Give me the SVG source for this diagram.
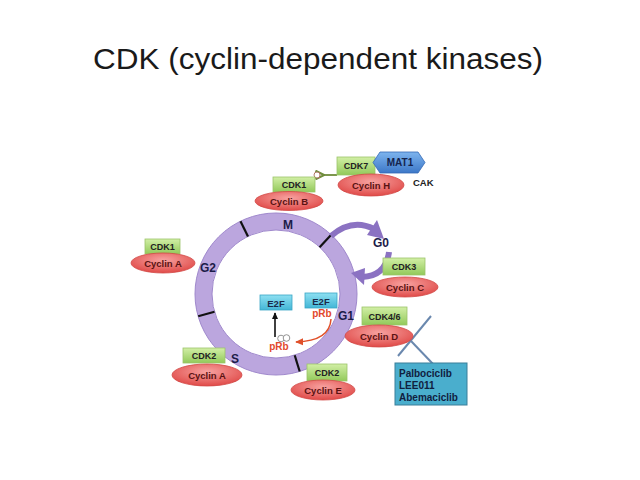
<svg xmlns="http://www.w3.org/2000/svg" width="640" height="480" viewBox="0 0 640 480">
<defs>
<linearGradient id="gGreen" x1="0" y1="0" x2="0" y2="1"><stop offset="0" stop-color="#d2efa6"/><stop offset="1" stop-color="#92c95a"/></linearGradient>
<radialGradient id="gRed" cx="0.5" cy="0.35" r="0.65"><stop offset="0" stop-color="#f7a2a0"/><stop offset="1" stop-color="#e04a48"/></radialGradient>
<linearGradient id="gCyan" x1="0" y1="0" x2="0" y2="1"><stop offset="0" stop-color="#8ee0f2"/><stop offset="1" stop-color="#43b6d6"/></linearGradient>
<linearGradient id="gBlue" x1="0" y1="0" x2="0" y2="1"><stop offset="0" stop-color="#7db4ee"/><stop offset="1" stop-color="#3d78c8"/></linearGradient>
<marker id="mRed" viewBox="0 0 10 10" refX="8" refY="5" markerWidth="6" markerHeight="6" orient="auto"><path d="M0,1 L9,5 L0,9 Z" fill="#e0502a"/></marker>
<marker id="mBlack" viewBox="0 0 10 10" refX="8" refY="5" markerWidth="5" markerHeight="5" orient="auto"><path d="M0,1 L9,5 L0,9 Z" fill="#111"/></marker>
<marker id="mGreen" viewBox="0 0 10 10" refX="2" refY="5" markerWidth="6" markerHeight="6" orient="auto"><path d="M9,1 L1,5 L9,9" fill="none" stroke="#6f8c3c" stroke-width="2"/></marker>
</defs>
<style>
.cdk{fill:url(#gGreen);stroke:#9cc46a;stroke-width:0.8}
.cyc{fill:url(#gRed);stroke:#d24a48;stroke-width:0.8}
.e2f{fill:url(#gCyan);stroke:#3aa6c6;stroke-width:0.8}
.tc{font-family:"Liberation Sans",Arial,sans-serif;font-weight:bold;font-size:9px;fill:#222;text-anchor:middle}
.ty{font-family:"Liberation Sans",Arial,sans-serif;font-weight:bold;font-size:9.5px;fill:#5a1212;text-anchor:middle}
.ph{font-family:"Liberation Sans",Arial,sans-serif;font-weight:bold;font-size:12px;fill:#1c1c48}
.tr{font-family:"Liberation Sans",Arial,sans-serif;font-weight:bold;font-size:10px;fill:#e2482c;text-anchor:middle}
.tick{stroke:#111;stroke-width:2.2}
</style>
<rect width="640" height="480" fill="#fff"/>
<text x="318" y="69" font-family="Liberation Sans,Arial,sans-serif" font-size="30" fill="#1a1a1a" text-anchor="middle" textLength="450" lengthAdjust="spacingAndGlyphs">CDK (cyclin-dependent kinases)</text>

<g id="cycle">
<circle cx="276" cy="294" r="72.5" fill="none" stroke="#bba6de" stroke-width="17"/>
<circle cx="276" cy="294" r="81" fill="none" stroke="#9f88cc" stroke-width="1"/>
<circle cx="276" cy="294" r="64" fill="none" stroke="#9f88cc" stroke-width="1"/>
<line class="tick" x1="248" y1="236.5" x2="240.5" y2="221.2"/>
<line class="tick" x1="319.6" y1="247.2" x2="331.2" y2="234.8"/>
<line class="tick" x1="214.5" y1="311.7" x2="198.2" y2="316.3"/>
<line class="tick" x1="294.7" y1="355.2" x2="299.7" y2="371.5"/>
<text class="ph" x="283" y="229">M</text>
<text class="ph" x="200" y="272">G2</text>
<text class="ph" x="338" y="320">G1</text>
<text class="ph" x="231" y="363">S</text>
<text class="ph" x="373" y="247">G0</text>
</g>

<g id="connectors">
<path d="M331 236 Q352 218 374 229" fill="none" stroke="#8b72c2" stroke-width="6"/>
<polygon points="377,220 384,239 367,235" fill="#8b72c2"/>
<path d="M389 252 Q386 276 362 277" fill="none" stroke="#8b72c2" stroke-width="6"/>
<polygon points="351,273 365,268 364,285" fill="#8b72c2"/>
<line x1="337" y1="175" x2="323" y2="175" stroke="#6f8c3c" stroke-width="1.8" marker-end="url(#mGreen)"/>
<circle cx="317" cy="175" r="3" fill="#fff" stroke="#b07a66" stroke-width="1"/>
<path d="M331 319 Q330 341 296 342" fill="none" stroke="#e0502a" stroke-width="1.5" marker-end="url(#mRed)"/>
<line x1="275" y1="337" x2="275" y2="313" stroke="#111" stroke-width="1.6" marker-end="url(#mBlack)"/>
<circle cx="281" cy="338.5" r="3.3" fill="#fff" stroke="#888" stroke-width="0.9"/>
<circle cx="286.5" cy="338" r="3.3" fill="#fff" stroke="#888" stroke-width="0.9"/>
<line x1="431" y1="316" x2="398" y2="356" stroke="#6a88ae" stroke-width="2"/>
<line x1="411" y1="341" x2="433" y2="364" stroke="#6a88ae" stroke-width="2"/>
</g>

<g id="cdk1-cyclinB">
<rect class="cdk" x="273" y="177" width="42" height="15"/>
<text class="tc" x="294" y="188">CDK1</text>
<ellipse class="cyc" cx="289" cy="201" rx="34" ry="9.5"/>
<text class="ty" x="289" y="204.5">Cyclin B</text>
</g>

<g id="cdk7-cyclinH">
<rect class="cdk" x="337" y="157" width="38" height="18"/>
<text class="tc" x="356" y="169">CDK7</text>
<ellipse class="cyc" cx="371" cy="185" rx="33" ry="11"/>
<text class="ty" x="371" y="188.5">Cyclin H</text>
</g>

<g id="mat1">
<polygon points="373,162.5 380,152 418,152 425,162.5 418,173 380,173" fill="url(#gBlue)" stroke="#3468b4" stroke-width="0.8"/>
<text x="400" y="166" font-family="Liberation Sans,Arial,sans-serif" font-weight="bold" font-size="10" fill="#14244e" text-anchor="middle">MAT1</text>
</g>
<g id="cak">
<text x="413" y="186" font-family="Liberation Sans,Arial,sans-serif" font-weight="bold" font-size="9.5" fill="#222">CAK</text>
</g>

<g id="cdk1-cyclinA">
<rect class="cdk" x="145" y="239" width="35" height="15"/>
<text class="tc" x="162.5" y="250">CDK1</text>
<ellipse class="cyc" cx="163" cy="263" rx="32" ry="10"/>
<text class="ty" x="163" y="266.5">Cyclin A</text>
</g>

<g id="cdk3-cyclinC">
<rect class="cdk" x="383" y="258" width="42" height="17"/>
<text class="tc" x="404" y="270">CDK3</text>
<ellipse class="cyc" cx="405" cy="287" rx="33" ry="10"/>
<text class="ty" x="405" y="290.5">Cyclin C</text>
</g>

<g id="cdk46-cyclinD">
<rect class="cdk" x="362" y="307" width="45" height="18"/>
<text class="tc" x="384.5" y="319.5">CDK4/6</text>
<ellipse class="cyc" cx="379" cy="336" rx="34" ry="11"/>
<text class="ty" x="379" y="339.5">Cyclin D</text>
</g>

<g id="cdk2-cyclinA">
<rect class="cdk" x="183" y="348" width="42" height="15"/>
<text class="tc" x="204" y="359">CDK2</text>
<ellipse class="cyc" cx="207" cy="375" rx="35" ry="11"/>
<text class="ty" x="207" y="378.5">Cyclin A</text>
</g>

<g id="cdk2-cyclinE">
<rect class="cdk" x="307" y="364" width="40" height="17"/>
<text class="tc" x="327" y="376">CDK2</text>
<ellipse class="cyc" cx="323" cy="390" rx="32" ry="10"/>
<text class="ty" x="323" y="393.5">Cyclin E</text>
</g>

<g id="e2f-left">
<rect class="e2f" x="260" y="295" width="32" height="15"/>
<text x="276" y="306.5" font-family="Liberation Sans,Arial,sans-serif" font-weight="bold" font-size="9.5" fill="#1a2a4a" text-anchor="middle">E2F</text>
</g>
<g id="e2f-right">
<rect class="e2f" x="305" y="293" width="32" height="15"/>
<text x="321" y="304.5" font-family="Liberation Sans,Arial,sans-serif" font-weight="bold" font-size="9.5" fill="#1a2a4a" text-anchor="middle">E2F</text>
</g>
<g id="prb-right"><text class="tr" x="322" y="317">pRb</text></g>
<g id="prb-left"><text class="tr" x="279" y="350">pRb</text></g>

<g id="inhibitors">
<rect x="395" y="363" width="72" height="42" fill="#4aaecd" stroke="#3a7f99" stroke-width="1"/>
<text x="399" y="377" font-family="Liberation Sans,Arial,sans-serif" font-weight="bold" font-size="10" fill="#102040">Palbociclib</text>
<text x="399" y="389" font-family="Liberation Sans,Arial,sans-serif" font-weight="bold" font-size="10" fill="#102040">LEE011</text>
<text x="399" y="401" font-family="Liberation Sans,Arial,sans-serif" font-weight="bold" font-size="10" fill="#102040">Abemaciclib</text>
</g>
</svg>
